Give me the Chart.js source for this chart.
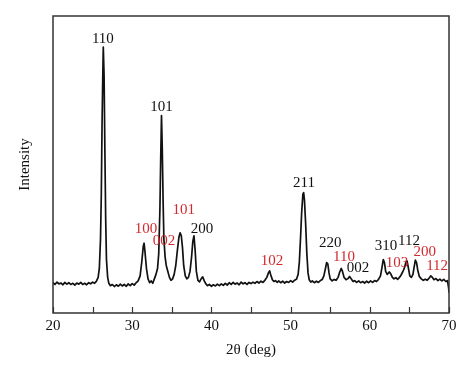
<!DOCTYPE html>
<html>
<head>
<meta charset="utf-8">
<script src="https://cdn.jsdelivr.net/npm/chart.js@4/dist/chart.umd.min.js"></script>
<style>
html,body{margin:0;padding:0;background:#fff;}
#wrap{width:474px;height:373px;}
</style>
</head>
<body>
<div id="wrap"><canvas id="c" width="474" height="373"></canvas></div>
<script>
// 2θ positions (deg)
const twoTheta = [
20.0,20.25,20.5,20.75,21.0,21.25,21.5,21.75,22.0,22.25,22.5,22.75,23.0,23.25,23.5,23.75,24.0,24.25,24.5,24.75,
25.0,25.25,25.5,25.7,25.85,26.0,26.1,26.2,26.3,26.35,26.45,26.55,26.65,26.75,26.9,27.05,27.25,27.5,27.75,
28.0,28.25,28.5,28.75,29.0,29.25,29.5,29.75,30.0,30.25,30.5,30.75,31.0,31.2,31.4,31.5,31.6,31.8,32.0,32.2,32.4,32.6,32.8,
33.0,33.2,33.35,33.5,33.6,33.7,33.8,33.9,34.0,34.15,34.3,34.5,34.7,34.9,35.1,35.3,35.5,35.7,35.9,36.05,36.2,36.35,36.5,36.7,36.9,
37.1,37.3,37.5,37.65,37.8,37.95,38.1,38.3,38.5,38.7,38.9,39.1,39.3,39.5,39.75,40.0,40.25,40.5,40.75,41.0,
41.25,41.5,41.75,42.0,42.25,42.5,42.75,43.0,43.25,43.5,43.75,44.0,44.25,44.5,44.75,45.0,45.25,45.5,45.75,46.0,46.25,46.5,46.75,
47.0,47.2,47.35,47.5,47.7,47.9,48.1,48.3,48.5,48.75,49.0,49.25,49.5,49.75,50.0,50.25,50.5,50.75,50.95,51.1,51.25,51.4,51.55,51.65,51.75,51.9,52.05,52.2,52.35,52.55,52.75,
53.0,53.25,53.5,53.75,54.0,54.2,54.4,54.55,54.7,54.85,55.0,55.25,55.5,55.75,56.0,56.2,56.4,56.55,56.75,57.0,57.25,57.45,57.65,57.9,
58.1,58.35,58.6,58.85,59.1,59.35,59.6,59.85,60.1,60.35,60.6,60.85,61.1,61.35,61.55,61.7,61.85,62.0,62.2,62.45,62.65,62.85,
63.05,63.3,63.5,63.75,63.95,64.15,64.35,64.55,64.7,64.85,65.05,65.25,65.45,65.6,65.75,65.9,66.05,66.25,66.5,66.75,
67.0,67.25,67.5,67.7,67.9,68.1,68.35,68.6,68.85,69.1,69.35,69.6,69.8,69.95,70.0
];
// intensity (a.u.)
const intensity = [
10.2,9.6,10.4,9.8,10.1,9.5,10.3,9.7,10.2,9.6,10.0,9.4,10.1,9.7,10.3,9.6,10.0,9.5,10.2,9.8,
10.4,10.0,10.8,12,15,25,40,65,82,89.5,80,55,32,18,12,10,9.2,9.6,8.9,
9.5,9.0,9.7,9.1,9.6,9.0,9.8,9.2,9.9,9.4,10.2,10.8,12.5,17,22.5,23.5,21,15,11.5,10.2,10.8,10.0,11.5,
13,15,20,35,52,66.5,55,38,25,19,16,14,12,11,11.5,13,16,21,25.5,27,26,22,16,12.5,11.5,
12,14,19,24,26,21,14,11,10.5,11.5,12.2,10.8,9.8,9.2,9.6,9.0,9.5,9.1,9.7,9.2,
9.8,9.3,10.0,9.4,10.2,9.6,10.3,9.7,10.1,9.5,10.4,9.8,10.2,9.6,10.3,9.9,10.4,10.0,10.6,10.1,10.7,10.3,11.0,
12.0,13.5,14.2,12.8,11.2,10.6,10.9,10.3,10.8,10.2,10.7,10.1,10.6,10.3,10.9,10.4,11.0,11.4,13,17,25,34,40,40.5,38,30,20,13.5,11.2,10.4,10.8,
10.2,10.7,10.3,10.9,11.3,12.5,15,17,16.5,13.5,11.5,10.8,11.3,11.0,12.0,13.8,15,14,12,11.2,11.6,12.3,11.5,10.6,
10.9,10.3,10.8,10.2,10.6,10.1,10.7,10.2,10.8,10.3,10.9,10.6,11.3,12.5,15.5,18,17,14,13,13.8,13.2,12,
11.5,11.9,11.3,12.0,12.8,13.8,15,17,17.5,15.5,12.5,12.0,13,15.5,17.8,17,14.5,12.3,11.5,11.0,
11.4,11.0,11.8,12.5,12.0,11.2,11.6,10.9,11.4,10.8,11.3,10.6,10.9,8.5,7
];
// x-axis tick values
const majorTicks = [20,30,40,50,60,70];
const minorTicks = [25,35,45,55,65];
// peak labels (Miller indices), phase colour group, and anchor in data units
const peakLabels = ['110','101','100','002','101','200','102','211','220','110','002','310','103','112','200','112'];
const peakPhase  = [0,0,1,1,1,0,1,0,0,1,0,0,1,0,1,1];
const labelAt2T  = [26.3,33.7,31.75,34.0,36.5,38.8,47.65,51.7,55.0,56.75,58.5,62.05,63.45,64.95,66.95,68.5];
const labelAtI   = [92.2,69.3,28.4,24.3,34.8,28.4,17.6,43.6,23.6,18.9,15.2,22.6,16.9,24.3,20.6,15.9];

const phaseColors = ['#111111','#d02a2e'];
const serif = "'Liberation Serif','Times New Roman',serif";

const decor = {
  id:'decor',
  afterDraw(chart){
    const {ctx, chartArea:a, scales:{x,y}} = chart;
    ctx.save();
    ctx.strokeStyle = '#333';
    ctx.lineWidth = 1.5;
    ctx.strokeRect(a.left, a.top, a.right-a.left, a.bottom-a.top);
    ctx.lineWidth = 1.2;
    [...majorTicks, ...minorTicks].forEach(v=>{
      const px = Math.round(x.getPixelForValue(v))+0.5;
      ctx.beginPath(); ctx.moveTo(px, a.bottom); ctx.lineTo(px, a.bottom-6); ctx.stroke();
    });
    ctx.font = "15px " + serif;
    ctx.textAlign = 'center';
    ctx.textBaseline = 'middle';
    peakLabels.forEach((t,i)=>{
      ctx.fillStyle = phaseColors[peakPhase[i]];
      ctx.fillText(t, x.getPixelForValue(labelAt2T[i]), y.getPixelForValue(labelAtI[i]));
    });
    ctx.restore();
  }
};

new Chart(document.getElementById('c'), {
  type:'line',
  data:{
    datasets:[{
      data: twoTheta.map((t,i)=>({x:t, y:intensity[i]})),
      borderColor:'#111',
      borderWidth:1.7,
      borderJoinStyle:'round',
      borderCapStyle:'round',
      pointRadius:0,
      tension:0.0001,
      fill:false
    }]
  },
  options:{
    responsive:false,
    animation:false,
    layout:{padding:{left:16, right:25, top:16, bottom:14}},
    plugins:{legend:{display:false}, tooltip:{enabled:false}},
    scales:{
      x:{
        type:'linear', min:20, max:70,
        grid:{display:false, drawTicks:false},
        border:{display:false},
        ticks:{
          stepSize:10, color:'#111', padding:4,
          font:{family:serif, size:15},
          maxRotation:0
        },
        title:{display:true, text:'2\u03B8 (deg)', color:'#111', font:{family:serif, size:15}, padding:{top:2,bottom:0}}
      },
      y:{
        min:0, max:100,
        grid:{display:false, drawTicks:false},
        border:{display:false},
        ticks:{display:false},
        afterFit(s){ s.width = 37; },
        title:{display:true, text:'Intensity', color:'#111', font:{family:serif, size:15}, padding:{top:0,bottom:0}}
      }
    }
  },
  plugins:[decor]
});
</script>
</body>
</html>
